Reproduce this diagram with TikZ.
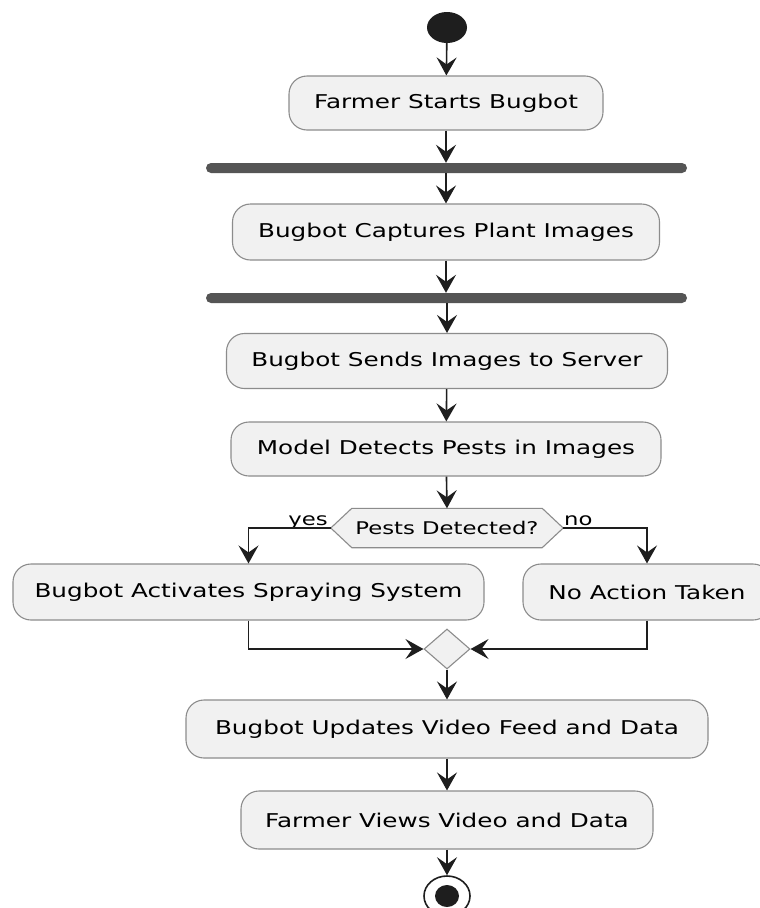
\documentclass[tikz,border=0pt]{standalone}
\usepackage{fontspec}
\newfontfamily\dfont[FakeStretch=1.3]{DejaVu Sans}
\usetikzlibrary{arrows.meta,shapes.geometric,calc}
\definecolor{actfill}{HTML}{F1F1F1}
\definecolor{actborder}{HTML}{8C8C8C}
\definecolor{arrowc}{HTML}{1E1E1E}
\definecolor{barc}{HTML}{555555}
\begin{document}
\begin{tikzpicture}[x=1pt,y=-1pt,
  act/.style={draw=actborder, fill=actfill, line width=1.1pt, rounded corners=18pt,
    minimum height=55pt, inner sep=0pt, font=\dfont\fontsize{19}{22}\selectfont},
  barnode/.style={fill=barc, rounded corners=5pt, minimum width=481pt, minimum height=10pt, inner sep=0pt},
  flow/.style={draw=arrowc, line width=1.6pt, -{Stealth[length=18pt,width=20pt,inset=7pt]}},
  small/.style={font=\dfont\fontsize{17.5}{20}\selectfont, inner sep=0pt},
  startc/.style={ellipse, fill=arrowc, minimum width=40pt, minimum height=31pt, inner sep=0pt},
  endc/.style={ellipse, draw=arrowc, fill=white, line width=1.6pt, minimum width=46pt, minimum height=40pt, inner sep=0pt},
  merge/.style={diamond, draw=actborder, fill=actfill, line width=1.1pt, minimum width=46pt, minimum height=40pt, inner sep=0pt}
]
\useasboundingbox (0,0) rectangle (760,908);
\fill[white] (0,0) rectangle (760,908);
\clip (0,0) rectangle (760,908);

\node[startc] (start) at (447,27.5) {};
\node[act, minimum width=314pt, minimum height=54pt] (b1) at (446,103) {Farmer Starts Bugbot};
\node[barnode] (bar1) at (446.5,168) {};
\node[act, minimum width=427pt, minimum height=56pt] (b2) at (446,232) {Bugbot Captures Plant Images};
\node[barnode] (bar2) at (446.5,298) {};
\node[act, minimum width=441pt, minimum height=55pt] (b3) at (447,361) {Bugbot Sends Images to Server};
\node[act, minimum width=430pt, minimum height=54pt] (b4) at (446,449) {Model Detects Pests in Images};

% decision hexagon
\node[small, minimum width=232pt, minimum height=39pt] (hex) at (447,528) {};
\filldraw[draw=actborder, fill=actfill, line width=1.1pt]
  (hex.west) -- ($(hex.north west)+(21,0)$) -- ($(hex.north east)+(-21,0)$) -- (hex.east)
  -- ($(hex.south east)+(-21,0)$) -- ($(hex.south west)+(21,0)$) -- cycle;
\node[small] (hextext) at (hex.center) {Pests Detected?};

\node[act, minimum width=471pt, minimum height=56pt] (left) at (248.5,592) {Bugbot Activates Spraying System};
\node[act, minimum width=248pt, minimum height=56pt] (right) at (647,592) {No Action Taken};
\node[merge] (m) at (447,649) {};
\node[act, minimum width=522pt, minimum height=58pt] (b5) at (447,729) {Bugbot Updates Video Feed and Data};
\node[act, minimum width=412pt, minimum height=58pt] (b6) at (447,820) {Farmer Views Video and Data};
\node[endc] (end) at (447,896) {};
\fill[arrowc] (end.center) ellipse (12pt and 11pt);

\node[small, anchor=base east] (yes) at (328,525) {yes};
\node[small, anchor=base west] (no) at (564,525) {no};

\draw[flow] (start) -- (b1);
\draw[flow] (b1) -- (b1.south |- bar1.north);
\draw[flow] (b2.north |- bar1.south) -- (b2);
\draw[flow] (b2) -- (b2.south |- bar2.north);
\draw[flow] (b3.north |- bar2.south) -- (b3);
\draw[flow] (b3) -- (b4);
\draw[flow] (b4) -- (hex.north);
\draw[flow] (hex.west) -| (left.north);
\draw[flow] (hex.east) -| (right.north);
\draw[flow] (left.south) |- (m.west);
\draw[flow] (right.south) |- (m.east);
\draw[flow] (m) -- (b5);
\draw[flow] (b5) -- (b6);
\draw[flow] (b6) -- (end);
\end{tikzpicture}
\end{document}
